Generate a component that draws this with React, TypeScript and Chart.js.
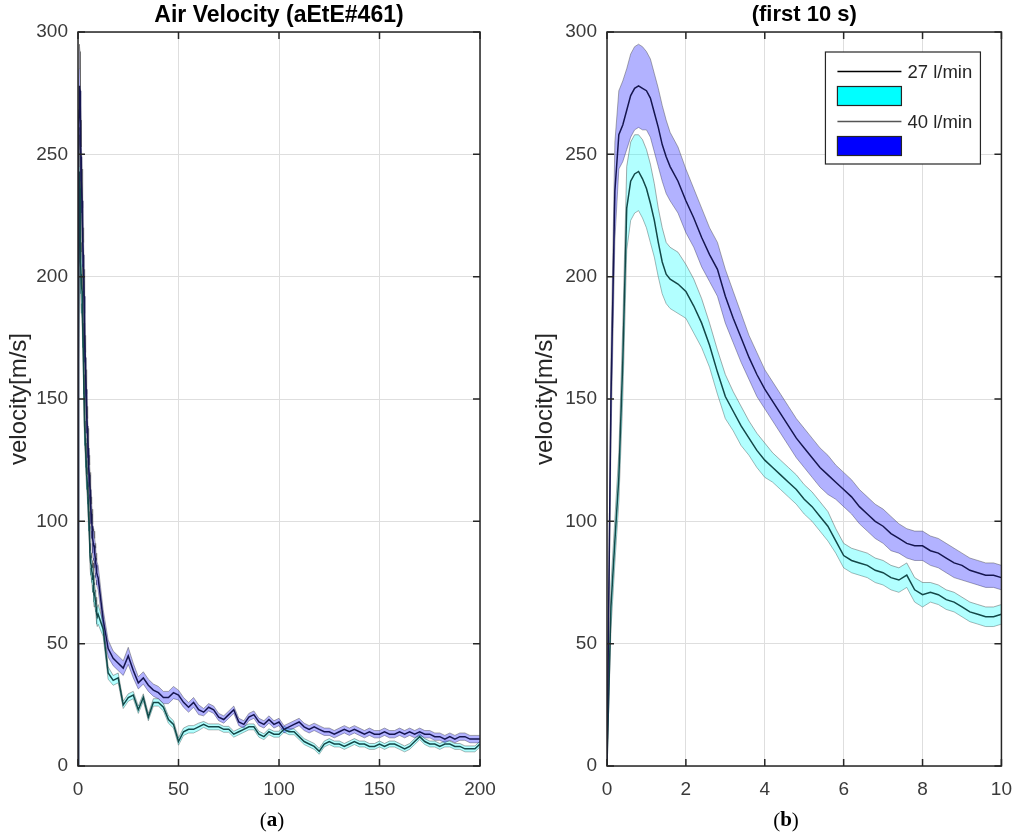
import React, { useEffect, useRef } from 'react';
import { Chart, registerables } from 'chart.js';

Chart.register(...registerables);

// ---- data ----

// first 10 s, sample times [s]
const tFirst = [
  0, 0.1, 0.2, 0.3, 0.4, 0.5, 0.6, 0.7, 0.8, 0.9, 1.0, 1.1, 1.2, 1.3, 1.4, 1.5, 1.6,
  1.8, 2.0, 2.2, 2.4, 2.6, 2.8, 3.0, 3.2, 3.4, 3.6, 3.8, 4.0, 4.2, 4.4, 4.6, 4.8, 5.0,
  5.2, 5.4, 5.6, 5.8, 6.0, 6.2, 6.4, 6.6, 6.8, 7.0, 7.2, 7.4, 7.6, 7.8, 8.0, 8.2, 8.4,
  8.6, 8.8, 9.0, 9.2, 9.4, 9.6, 9.8, 10.0,
];

// 40 l/min: mean and band limits [m/s]
const v40First = [
  0, 150, 235, 258, 262, 268, 274, 277, 278, 277, 276, 273, 267, 261, 254, 249, 245,
  239, 231, 224, 216, 209, 203, 192, 183, 175, 167, 160, 154, 149, 144, 139, 134, 130,
  126, 122, 119, 116, 113, 110, 106, 103, 100, 98, 95, 93, 91, 90, 90, 88, 87,
  85, 83, 82, 80, 79, 78, 78, 77,
];
const v40FirstHi = [
  0, 168, 255, 276, 280, 285, 291, 294, 295, 294, 292, 289, 283, 277, 270, 264, 259,
  253, 244, 236, 228, 220, 214, 203, 194, 185, 176, 169, 162, 157, 152, 147, 142, 138,
  134, 130, 127, 123, 120, 117, 113, 110, 107, 105, 102, 99, 97, 96, 96, 94, 93,
  91, 89, 87, 85, 84, 83, 83, 82,
];
const v40FirstLo = [
  0, 132, 215, 244, 247, 252, 257, 260, 261, 260, 260, 257, 251, 245, 239, 234, 231,
  226, 218, 212, 204, 198, 192, 181, 173, 165, 158, 151, 146, 141, 136, 131, 126, 122,
  118, 114, 111, 109, 106, 103, 99, 96, 93, 91, 88, 87, 85, 84, 84, 82, 81,
  79, 77, 76, 75, 74, 73, 73, 72,
];

// 27 l/min: mean and band limits [m/s]
const v27First = [
  0, 65, 92, 118, 165, 228, 239, 242, 243, 240, 236, 230, 223, 214, 206, 201, 199,
  197, 194, 188, 181, 172, 161, 151, 145, 139, 134, 129, 125, 122, 119, 116, 113, 109,
  106, 102, 98, 92, 86, 84, 83, 82, 80, 79, 77, 76, 78, 72, 70, 71, 70,
  68, 67, 65, 63, 62, 61, 61, 62,
];
const v27FirstHi = [
  0, 74, 101, 128, 180, 245, 255, 258, 258, 256, 252, 246, 238, 228, 220, 214, 212,
  210, 205, 199, 191, 181, 170, 160, 153, 147, 141, 136, 132, 128, 125, 122, 119, 115,
  112, 108, 104, 97, 91, 89, 88, 87, 85, 84, 82, 81, 83, 77, 75, 75, 74,
  72, 71, 69, 67, 66, 65, 65, 66,
];
const v27FirstLo = [
  0, 56, 83, 108, 150, 211, 223, 226, 227, 224, 220, 214, 208, 200, 193, 189, 187,
  185, 183, 177, 171, 163, 152, 142, 137, 131, 127, 122, 118, 116, 113, 110, 107, 103,
  100, 96, 92, 87, 81, 79, 78, 77, 75, 74, 72, 71, 73, 67, 65, 67, 66,
  64, 63, 61, 59, 58, 57, 57, 58,
];

// 12.5 s .. 200 s, every 2.5 s
const tTail = Array.from({ length: 76 }, (_, i) => 12.5 + i * 2.5);

const v40Tail = [
  60, 48, 44, 42, 40, 45, 39, 34, 36, 33, 31, 30, 28, 28, 30, 29, 26, 24, 26, 23,
  22, 24, 23, 20, 19, 21, 23, 18, 17, 20, 21, 18, 17, 19, 17, 18, 15, 16, 17, 18,
  16, 15, 16, 15, 14, 14, 13, 14, 15, 14, 15, 14, 13, 14, 13, 13, 14, 13, 13, 14,
  13, 14, 13, 14, 13, 13, 12, 12, 11, 12, 11, 12, 12, 11, 11, 11,
];
const v40TailSpread = [
  4, 3.5, 3, 3, 3, 3.5, 3, 2.5, 2.5, 2.5, 2.5, 2.5, 2.5, 2.5, 2.5, 2, 2, 2, 2, 2,
  1.5, 1.5, 1.5, 1.5, 1.5, 1.5, 1.5, 1.5, 1.5, 1.5, 1.5, 1.5, 1.5, 1.5, 1.5, 1.5, 1.5, 1.5, 1.5, 1.5,
  1.5, 1.5, 1.5, 1.5, 1.5, 1.5, 1.5, 1.5, 1.5, 1.5, 1.5, 1.5, 1.5, 1.5, 1.5, 1.5, 1.5, 1.5, 1.5, 1.5,
  1.5, 1.5, 1.5, 1.5, 1.5, 1.5, 1.5, 1.5, 1.5, 1.5, 1.5, 1.5, 1.5, 1.5, 1.5, 1.5,
];
const v27Tail = [
  56, 38, 35, 36, 25, 28, 29, 23, 28, 20, 26, 26, 24, 19, 17, 10, 14, 15, 15, 16,
  17, 16, 16, 16, 15, 15, 13, 14, 15, 16, 16, 13, 12, 14, 13, 13, 15, 14, 14, 12,
  10, 9, 8, 6, 9, 10, 9, 9, 8, 9, 10, 9, 9, 8, 8, 9, 8, 9, 9, 8,
  7, 8, 10, 12, 10, 9, 9, 8, 9, 9, 8, 8, 7, 7, 7, 9,
];
const v27TailSpread = [
  3, 2.5, 2, 2, 1.5, 1.5, 1.5, 1.5, 1.5, 1.5, 1.5, 1.5, 1.5, 1.5, 1.5, 1.5, 1.5, 1.5, 1.5, 1.5,
  1.2, 1.2, 1.2, 1.2, 1.2, 1.2, 1.2, 1.2, 1.2, 1.2, 1.2, 1.2, 1.2, 1.2, 1.2, 1.2, 1.2, 1.2, 1.2, 1.2,
  1.2, 1.2, 1.2, 1.2, 1.2, 1.2, 1.2, 1.2, 1.2, 1.2, 1.2, 1.2, 1.2, 1.2, 1.2, 1.2, 1.2, 1.2, 1.2, 1.2,
  1.2, 1.2, 1.2, 1.2, 1.2, 1.2, 1.2, 1.2, 1.2, 1.2, 1.2, 1.2, 1.2, 1.2, 1.2, 1.2,
];

const seriesLabels = ['27 l/min', '40 l/min'];
const xTicksA = [0, 50, 100, 150, 200];
const xTicksB = [0, 2, 4, 6, 8, 10];
const yTicks = [0, 50, 100, 150, 200, 250, 300];

// ---- styling ----
const SANS = '"Liberation Sans", Arial, Helvetica, sans-serif';
const SERIF = '"Liberation Serif", "Times New Roman", serif';
const AXIS = '#262626';
const EDGE = 'rgba(70,70,70,0.45)';
const FILL_27 = 'rgba(0,255,255,0.3)';
const FILL_40 = 'rgba(0,0,255,0.3)';
const LINE_27 = '#134848';
const LINE_40 = '#15154f';

// box round the axes with inward tick marks, as matlab draws it
const framePlugin = {
  id: 'frame',
  afterDatasetsDraw(chart: any) {
    const { ctx, chartArea: a, scales } = chart;
    const len = 7;
    ctx.save();
    ctx.strokeStyle = AXIS;
    ctx.lineWidth = 1.5;
    ctx.beginPath();
    scales.x.ticks.forEach((t: any) => {
      const p = scales.x.getPixelForValue(t.value);
      ctx.moveTo(p, a.bottom);
      ctx.lineTo(p, a.bottom - len);
      ctx.moveTo(p, a.top);
      ctx.lineTo(p, a.top + len);
    });
    scales.y.ticks.forEach((t: any) => {
      const p = scales.y.getPixelForValue(t.value);
      ctx.moveTo(a.left, p);
      ctx.lineTo(a.left + len, p);
      ctx.moveTo(a.right, p);
      ctx.lineTo(a.right - len, p);
    });
    ctx.stroke();
    ctx.strokeRect(a.left, a.top, a.right - a.left, a.bottom - a.top);
    ctx.restore();
  },
};

// sub-figure caption "(a)" with a bold letter
const captionPlugin = {
  id: 'caption',
  afterDraw(chart: any, _args: any, opts: any) {
    if (!opts || !opts.text) return;
    const { ctx } = chart;
    const normal = `21px ${SERIF}`;
    const bold = `bold 21px ${SERIF}`;
    ctx.save();
    ctx.fillStyle = '#000';
    ctx.textBaseline = 'middle';
    ctx.textAlign = 'left';
    ctx.font = normal;
    const wp = ctx.measureText('(').width;
    const wq = ctx.measureText(')').width;
    ctx.font = bold;
    const wl = ctx.measureText(opts.text).width;
    let x = opts.x - (wp + wl + wq) / 2;
    ctx.font = normal;
    ctx.fillText('(', x, opts.y);
    x += wp;
    ctx.font = bold;
    ctx.fillText(opts.text, x, opts.y);
    x += wl;
    ctx.font = normal;
    ctx.fillText(')', x, opts.y);
    ctx.restore();
  },
};

// legend inside the axes: line + label, then patch swatch
const boxLegendPlugin = {
  id: 'boxLegend',
  afterDraw(chart: any, _args: any, opts: any) {
    if (!opts || !opts.show) return;
    const { ctx, chartArea: a } = chart;
    const w = 155;
    const h = 112;
    const L = a.right - 21 - w;
    const T = a.top + 20;
    ctx.save();
    ctx.fillStyle = '#fff';
    ctx.fillRect(L, T, w, h);
    ctx.strokeStyle = AXIS;
    ctx.lineWidth = 1.2;
    ctx.strokeRect(L, T, w, h);

    const rows = [
      { label: seriesLabels[0], line: '#000', patch: '#00ffff', y: T + 19.5 },
      { label: seriesLabels[1], line: '#555', patch: '#0000ff', y: T + 69.5 },
    ];
    ctx.font = `18.5px ${SANS}`;
    ctx.textBaseline = 'middle';
    ctx.textAlign = 'left';
    rows.forEach((r) => {
      ctx.strokeStyle = r.line;
      ctx.lineWidth = 1.5;
      ctx.beginPath();
      ctx.moveTo(L + 12, r.y);
      ctx.lineTo(L + 76, r.y);
      ctx.stroke();
      ctx.fillStyle = AXIS;
      ctx.fillText(r.label, L + 82, r.y + 1);
      ctx.fillStyle = r.patch;
      ctx.fillRect(L + 12, r.y + 15, 64, 19);
      ctx.strokeStyle = AXIS;
      ctx.lineWidth = 1.2;
      ctx.strokeRect(L + 12, r.y + 15, 64, 19);
    });
    ctx.restore();
  },
};

interface PanelProps {
  left: number;
  title: string;
  titleSize: number;
  caption: string;
  captionX: number;
  times: number[];
  m27: number[];
  hi27: number[];
  lo27: number[];
  m40: number[];
  hi40: number[];
  lo40: number[];
  xMax: number;
  xTicks: number[];
  yAxisWidth: number;
  padRight: number;
  yTitlePad: number;
  legend: boolean;
}

const Panel: React.FC<PanelProps> = (p) => {
  const canvasRef = useRef<HTMLCanvasElement | null>(null);
  const chartRef = useRef<Chart | null>(null);

  useEffect(() => {
    const canvas = canvasRef.current;
    if (!canvas) return;

    const pts = (ys: number[]) => p.times.map((x, i) => ({ x, y: ys[i] }));
    const bandSet = (name: string, hi: number[], lo: number[], fill: string) => [
      {
        label: name + ' upper',
        data: pts(hi),
        borderColor: EDGE,
        borderWidth: 1,
        backgroundColor: fill,
        fill: '+1',
        pointRadius: 0,
        order: 2,
      },
      {
        label: name + ' lower',
        data: pts(lo),
        borderColor: EDGE,
        borderWidth: 1,
        fill: false,
        pointRadius: 0,
        order: 2,
      },
    ];

    const datasets: any[] = [
      ...bandSet(seriesLabels[1], p.hi40, p.lo40, FILL_40),
      ...bandSet(seriesLabels[0], p.hi27, p.lo27, FILL_27),
      {
        label: seriesLabels[1],
        data: pts(p.m40),
        borderColor: LINE_40,
        borderWidth: 1.5,
        fill: false,
        pointRadius: 0,
        order: 1,
      },
      {
        label: seriesLabels[0],
        data: pts(p.m27),
        borderColor: LINE_27,
        borderWidth: 1.5,
        fill: false,
        pointRadius: 0,
        order: 1,
      },
    ];

    const tickFont = { family: SANS, size: 19 };
    const titleLine = p.titleSize * 1.2;

    if (chartRef.current) chartRef.current.destroy();
    chartRef.current = new Chart(canvas, {
      type: 'line',
      data: { datasets },
      options: {
        animation: false,
        responsive: false,
        layout: { padding: { left: 0, right: p.padRight, top: 0, bottom: 0 } },
        elements: { line: { tension: 0 } },
        scales: {
          x: {
            type: 'linear',
            min: 0,
            max: p.xMax,
            afterBuildTicks: (axis: any) => {
              axis.ticks = p.xTicks.map((value) => ({ value }));
            },
            afterFit: (axis: any) => {
              axis.height = 72;
            },
            grid: { color: '#dedede', lineWidth: 1, drawTicks: false },
            border: { display: false },
            ticks: { font: tickFont, color: '#3a3a3a', padding: 12, maxRotation: 0 },
          },
          y: {
            type: 'linear',
            min: 0,
            max: 300,
            afterBuildTicks: (axis: any) => {
              axis.ticks = yTicks.map((value) => ({ value }));
            },
            afterFit: (axis: any) => {
              axis.width = p.yAxisWidth;
            },
            grid: { color: '#dedede', lineWidth: 1, drawTicks: false },
            border: { display: false },
            ticks: { font: tickFont, color: '#3a3a3a', padding: 10 },
            title: {
              display: true,
              text: 'velocity[m/s]',
              font: { family: SANS, size: 24 },
              color: AXIS,
              padding: { top: p.yTitlePad, bottom: 0 },
            },
          },
        },
        plugins: {
          legend: { display: false },
          tooltip: { enabled: false },
          title: {
            display: true,
            text: p.title,
            fullSize: false,
            font: { family: SANS, size: p.titleSize, weight: 'bold' },
            color: '#000',
            padding: { top: 2, bottom: 32 - 2 - titleLine },
          },
          caption: { text: p.caption, x: p.captionX, y: 821 },
          boxLegend: { show: p.legend },
        } as any,
      },
      plugins: [framePlugin, captionPlugin, boxLegendPlugin],
    });

    return () => {
      if (chartRef.current) {
        chartRef.current.destroy();
        chartRef.current = null;
      }
    };
  }, [p]);

  return (
    <canvas
      ref={canvasRef}
      width={512}
      height={838}
      style={{ position: 'absolute', left: p.left, top: 0, width: 512, height: 838 }}
    />
  );
};

const fullTimes = [...tFirst, ...tTail];
const full40 = [...v40First, ...v40Tail];
const full40Hi = [...v40FirstHi, ...v40Tail.map((v, i) => v + v40TailSpread[i])];
const full40Lo = [...v40FirstLo, ...v40Tail.map((v, i) => v - v40TailSpread[i])];
const full27 = [...v27First, ...v27Tail];
const full27Hi = [...v27FirstHi, ...v27Tail.map((v, i) => v + v27TailSpread[i])];
const full27Lo = [...v27FirstLo, ...v27Tail.map((v, i) => v - v27TailSpread[i])];

const panelA: PanelProps = {
  left: 0,
  title: 'Air Velocity (aEtE#461)',
  titleSize: 23,
  caption: 'a',
  captionX: 272,
  times: fullTimes,
  m27: full27,
  hi27: full27Hi,
  lo27: full27Lo,
  m40: full40,
  hi40: full40Hi,
  lo40: full40Lo,
  xMax: 200,
  xTicks: xTicksA,
  yAxisWidth: 78,
  padRight: 32,
  yTitlePad: 5,
  legend: false,
};

const panelB: PanelProps = {
  left: 512,
  title: '(first 10 s)',
  titleSize: 22,
  caption: 'b',
  captionX: 274,
  times: tFirst,
  m27: v27First,
  hi27: v27FirstHi,
  lo27: v27FirstLo,
  m40: v40First,
  hi40: v40FirstHi,
  lo40: v40FirstLo,
  xMax: 10,
  xTicks: xTicksB,
  yAxisWidth: 95,
  padRight: 16,
  yTitlePad: 19,
  legend: true,
};

export default function App() {
  return (
    <div
      style={{
        position: 'absolute',
        left: 0,
        top: 0,
        width: 1024,
        height: 838,
        background: '#fff',
        overflow: 'hidden',
      }}
    >
      <Panel {...panelA} />
      <Panel {...panelB} />
    </div>
  );
}
